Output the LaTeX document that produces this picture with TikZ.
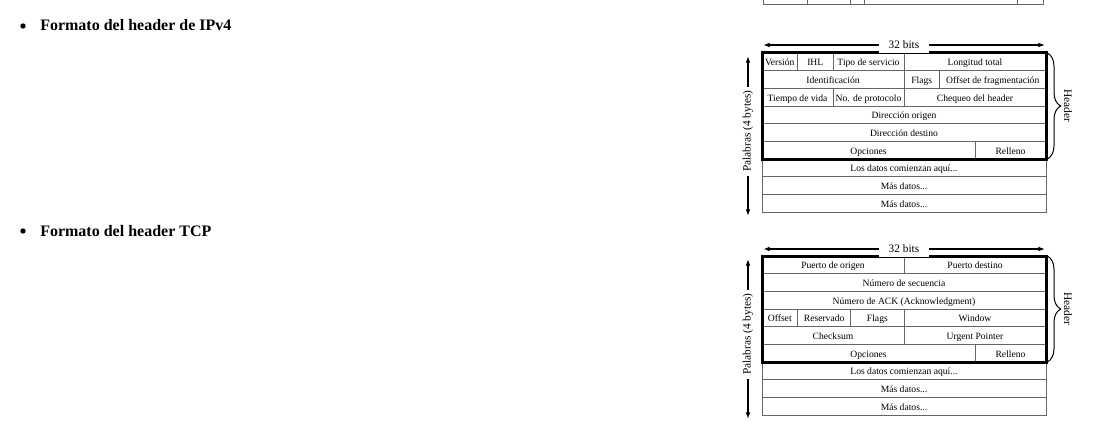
\documentclass[tikz,border=0pt]{standalone}
\usepackage{fontspec}
\setmainfont{Liberation Serif}
\usetikzlibrary{arrows.meta,decorations.pathreplacing}

\begin{document}
\begin{tikzpicture}[
      x=0.75pt, y=-0.75pt,
      cell/.style={draw=black!60, line width=0.75pt, anchor=north west,
                   minimum height=13.25pt, inner sep=0pt, outer sep=0pt,
                   text height=6.4pt, text depth=0.6pt,
                   font=\fontsize{7.2}{8}\selectfont},
      stub/.style={cell, anchor=south west},
      frame/.style={line width=2.25pt},
      dim/.style={{Latex[length=5pt,width=3.6pt]}-{Latex[length=5pt,width=3.6pt]},
                  line width=1pt},
      lbl/.style={font=\fontsize{8.5}{10}\selectfont, fill=white, inner sep=3pt},
      brc/.style={decorate, decoration={brace, amplitude=10pt}, line width=0.75pt},
      dot/.style={circle, fill=black, inner sep=0pt, minimum size=4pt},
      head/.style={font=\bfseries\fontsize{12}{14}\selectfont, anchor=base west,
                   inner sep=0pt}
    ]
    \useasboundingbox (0,0) rectangle (1113,435);

    % tail of the previous table, cut by the page
    \foreach \n/\a/\b in {1/763/807, 2/807/850, 3/850/864, 4/864/1017, 5/1017/1043}
      \node[stub, minimum width={(\b-\a)*0.75pt}] (prev-\n) at (\a,5) {};

    % IPv4
    \node[dot] (ip-dot) at (23,26) {};
    \node[head] (ip-title) at (40,31) {Formato del header de IPv4};

    \foreach \r/\n/\s/\w/\t in {0/ver/0/4/Versión, 0/ihl/4/4/IHL,
        0/tos/8/8/Tipo de servicio, 0/len/16/16/Longitud total,
        1/id/0/16/Identificación, 1/flg/16/4/Flags,
        1/frag/20/12/Offset de fragmentación,
        2/ttl/0/8/Tiempo de vida, 2/proto/8/8/No. de protocolo,
        2/chk/16/16/Chequeo del header,
        3/src/0/32/Dirección origen, 4/dst/0/32/Dirección destino,
        5/opt/0/24/Opciones, 5/pad/24/8/Relleno,
        6/d1/0/32/Los datos comienzan aquí.\relax.., 7/d2/0/32/Más datos.\relax..,
        8/d3/0/32/Más datos.\relax..}
      \node[cell, minimum width=\w*6.65625pt] (ip-\n)
        at ({762+\s*8.875},{53+\r*17.667}) {\t};
    \draw[frame] (ip-ver.north west) rectangle (ip-pad.south east);

    \coordinate (ip-l) at (763,45);
    \coordinate (ip-r) at (1045,45);
    \draw[dim] (ip-l) -- (ip-r) node[lbl, inner xsep=7pt, midway] (ip-bits) {32 bits};
    \coordinate (ip-top) at (748,56);
    \coordinate (ip-bot) at (748,216);
    \draw[dim] (ip-top) -- (ip-bot)
      node[lbl, pos=0.47, rotate=90] (ip-words) {Palabras (4 bytes)};
    \draw[brc] ([xshift=1pt]ip-len.north east) -- ([xshift=1pt]ip-pad.south east);
    \node[lbl, fill=none, rotate=-90] (ip-hdr) at (1068,106) {Header};

    % TCP
    \node[dot] (tcp-dot) at (23,231) {};
    \node[head] (tcp-title) at (40,236) {Formato del header TCP};

    \foreach \r/\n/\s/\w/\t in {0/sport/0/16/Puerto de origen,
        0/dport/16/16/Puerto destino,
        1/seq/0/32/Número de secuencia,
        2/ack/0/32/Número de ACK (Acknowledgment),
        3/off/0/4/Offset, 3/res/4/6/Reservado, 3/flg/10/6/Flags,
        3/win/16/16/Window,
        4/chk/0/16/Checksum, 4/urg/16/16/Urgent Pointer,
        5/opt/0/24/Opciones, 5/pad/24/8/Relleno,
        6/d1/0/32/Los datos comienzan aquí.\relax.., 7/d2/0/32/Más datos.\relax..,
        8/d3/0/32/Más datos.\relax..}
      \node[cell, minimum width=\w*6.65625pt] (tcp-\n)
        at ({762+\s*8.875},{256+\r*17.667}) {\t};
    \draw[frame] (tcp-sport.north west) rectangle (tcp-pad.south east);

    \coordinate (tcp-l) at (763,249);
    \coordinate (tcp-r) at (1045,249);
    \draw[dim] (tcp-l) -- (tcp-r) node[lbl, inner xsep=7pt, midway] (tcp-bits) {32 bits};
    \coordinate (tcp-top) at (748,259);
    \coordinate (tcp-bot) at (748,419);
    \draw[dim] (tcp-top) -- (tcp-bot)
      node[lbl, pos=0.47, rotate=90] (tcp-words) {Palabras (4 bytes)};
    \draw[brc] ([xshift=1pt]tcp-dport.north east) -- ([xshift=1pt]tcp-pad.south east);
    \node[lbl, fill=none, rotate=-90] (tcp-hdr) at (1068,309) {Header};
  \end{tikzpicture}
\end{document}
